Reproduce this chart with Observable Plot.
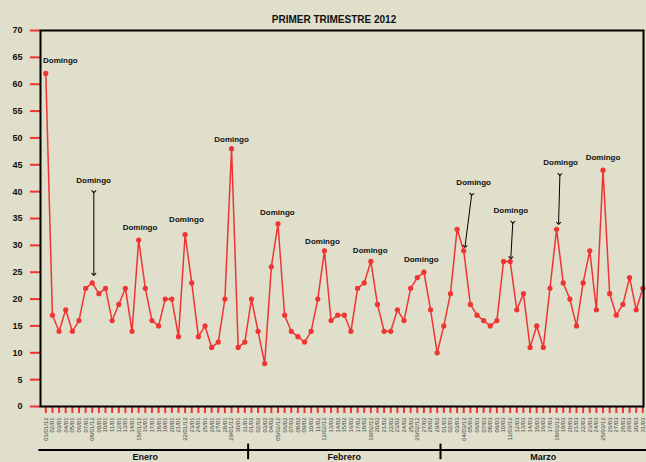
<!DOCTYPE html>
<html><head><meta charset="utf-8">
<script src="https://cdn.jsdelivr.net/npm/d3@7"></script>
<script src="https://cdn.jsdelivr.net/npm/@observablehq/plot@0.6"></script>
<style>body{margin:0;background:#dfdfcb;}</style>
</head><body><div id="chart"></div>
<script>
const title = "PRIMER TRIMESTRE 2012";
// Daily values, 1 Jan – 31 Mar 2012
const janValues = [62,17,14,18,14,16,22,23,21,22,16,19,22,14,31,22,16,15,20,20,13,32,23,13,15,11,12,20,48,11,12];
const febValues = [20,14,8,26,34,17,14,13,12,14,20,29,16,17,17,14,22,23,27,19,14,14,18,16,22,24,25,18,10];
const marValues = [15,21,33,29,19,17,16,15,16,27,27,18,21,11,15,11,22,33,23,20,15,23,29,18,44,21,17,19,24,18,22];
const monthNames = ["Enero","Febrero","Marzo"];
const monthDays = [31,29,31];
const yTicks = d3.range(0,71,5);
// "Domingo" annotations: label anchor (day index, value) and arrows (day index, value)
const labelDay = [2.2,7.2,14.2,21.2,28,34.9,41.7,48.9,56.6,64.5,70.1,77.6,84.0];
const labelVal = [64.4,42.1,33.3,34.8,49.7,36.1,30.7,29.05,27.4,41.7,36.5,45.4,46.4];
const arrowDay1 = [7.24,64.2,70.4,77.5];
const arrowVal1 = [40,39.5,34.3,43.2];
const arrowDay2 = [7.24,63.2,70.1,77.3];
const arrowVal2 = [24.6,29.8,27.7,34.1];

const values = [...janValues, ...febValues, ...marValues];
const dates = values.map((v,i) => new Date(2012,0,1+i));
const fmtShort = d3.timeFormat("%d/%m");
const fmtLong = d3.timeFormat("%d/%m/%y");
const tickLabels = dates.map(d => d.getDay() === 0 ? fmtLong(d) : fmtShort(d));
const data = values.map((v,i) => ({i, v}));
const labels = labelDay.map((d,k) => ({x:d, y:labelVal[k]}));
const arrows = arrowDay1.map((d,k) => ({x1:d, y1:arrowVal1[k], x2:arrowDay2[k], y2:arrowVal2[k]}));
let start = 0;
const months = monthNames.map((m,k) => { const o = {name:m, a:start-0.5, b:start+monthDays[k]-0.5, c:start+(monthDays[k]-1)/2}; start += monthDays[k]; return o; });
const bounds = months.slice(1).map(m => m.a);

const red = "#f03434";
const chart = Plot.plot({
  width:646, height:462, marginLeft:40, marginRight:3, marginTop:30, marginBottom:56,
  style:{background:"#dfdfcb", fontFamily:"'Liberation Sans', Arial, sans-serif", overflow:"visible"},
  x:{domain:[-0.8,90.1], axis:null},
  y:{domain:[0,70], axis:null},
  marks:[
    Plot.axisY({ticks:yTicks, tickSize:10, tickPadding:8, stroke:red, strokeWidth:2, fill:"#111", fontSize:9, fontWeight:"bold"}),
    Plot.axisX({ticks:d3.range(values.length), tickFormat:i => tickLabels[i], tickRotate:-90, tickSize:7, tickPadding:4, stroke:red, strokeWidth:2, fill:"#444", fontSize:6}),
    Plot.line(data, {x:"i", y:"v", stroke:red, strokeWidth:1.5}),
    Plot.dot(data, {x:"i", y:"v", r:2.6, fill:red}),
    Plot.frame({stroke:"#000", strokeWidth:2}),
    Plot.text(labels, {x:"x", y:"y", text:() => "Domingo", fontSize:8, fontWeight:"bold", fill:"#111"}),
    Plot.link(arrows, {x1:"x1", y1:"y1", x2:"x2", y2:"y2", stroke:"#000", strokeWidth:1, markerStart:"arrow", markerEnd:"arrow"}),
    Plot.ruleY([-8.1], {x1:-1.05, x2:90.6, stroke:"#000", strokeWidth:2}),
    Plot.ruleX(bounds, {y1:-7, y2:-9.9, stroke:"#000", strokeWidth:2}),
    Plot.text(months, {x:"c", y:-10.05, text:"name", lineAnchor:"bottom", fontSize:9, fontWeight:"bold", fill:"#111"}),
    Plot.text([title], {frameAnchor:"top", dx:-8, dy:-15, text:d => d, fontSize:10, fontWeight:"bold", fill:"#111"})
  ]
});
document.getElementById("chart").appendChild(chart);
</script>
</body></html>
